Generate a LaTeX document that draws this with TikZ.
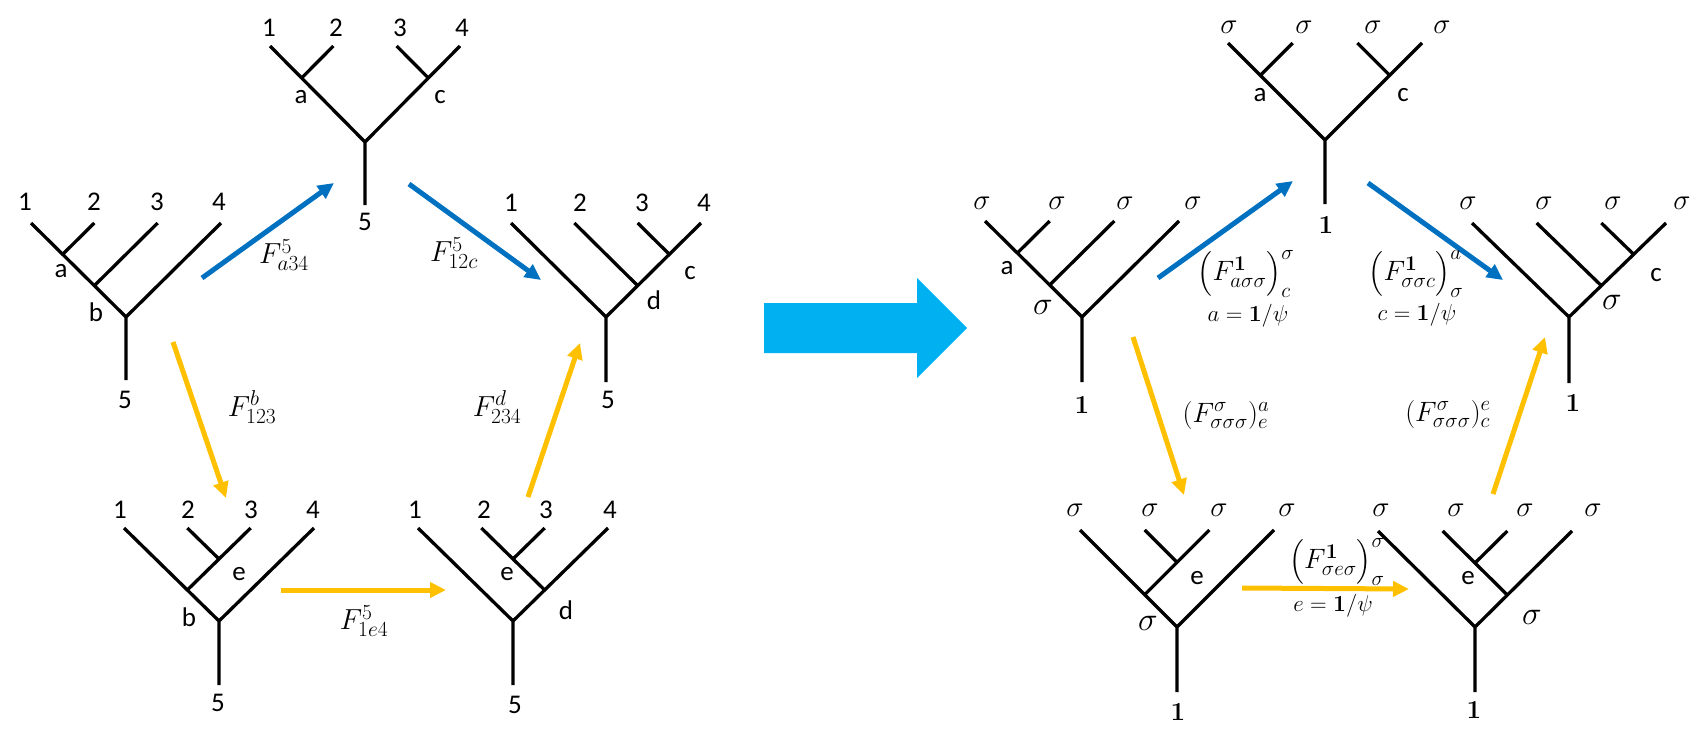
\RequirePackage{fix-cm}
\documentclass[tikz,border=0pt]{standalone}
\usepackage[no-math]{fontspec}
\usepackage{amsmath}
\newfontfamily\calib{Carlito}
\usetikzlibrary{calc,arrows.meta}
\definecolor{myblue}{HTML}{0070C0}
\definecolor{myyellow}{HTML}{FFC000}
\definecolor{bigblue}{HTML}{00B0F0}
\DeclareMathSizes{29}{29}{21.5}{16}
\DeclareMathSizes{28}{28}{21}{16}
\DeclareMathSizes{23}{23}{17}{13}
\tikzset{
 tree/.style={line width=3.3pt},
 lab/.style={font=\fontsize{27}{27}\selectfont\calib, inner sep=0pt},
 sig/.style={font=\fontsize{29}{29}\selectfont, inner sep=0pt},
 nsig/.style={font=\fontsize{33}{33}\selectfont, inner sep=0pt},
 one/.style={font=\fontsize{26}{26}\selectfont, inner sep=0pt},
 flab/.style={font=\fontsize{29}{29}\selectfont, inner sep=0pt},
 rlab/.style={font=\fontsize{28}{28}\selectfont, inner sep=0pt},
 slab/.style={font=\fontsize{23}{23}\selectfont, inner sep=0pt},
 barrow/.style={myblue, line width=5pt, -{Triangle[length=16pt,width=15pt]}},
 yarrow/.style={myyellow, line width=5pt, -{Triangle[length=16pt,width=15pt]}},
 pics/treeA/.style n args={3}{code={
   \draw[tree] (-#1,-#2) -- (0,0) -- (#1,-#2) (0,0) -- (0,#3)
     ({-2*#1/3},{-2*#2/3}) -- ({-#1/3},-#2)
     ({-#1/3},{-#2/3}) -- ({#1/3},-#2);}},
 pics/treeB/.style n args={3}{code={
   \draw[tree] (-#1,-#2) -- (0,0) -- (#1,-#2) (0,0) -- (0,#3)
     ({-2*#1/3},{-2*#2/3}) -- ({-#1/3},-#2)
     ({2*#1/3},{-2*#2/3}) -- ({#1/3},-#2);}},
 pics/treeC/.style n args={3}{code={
   \draw[tree] (-#1,-#2) -- (0,0) -- (#1,-#2) (0,0) -- (0,#3)
     ({2*#1/3},{-2*#2/3}) -- ({#1/3},-#2)
     ({#1/3},{-#2/3}) -- ({-#1/3},-#2);}},
 pics/treeD/.style n args={3}{code={
   \draw[tree] (-#1,-#2) -- (0,0) -- (#1,-#2) (0,0) -- (0,#3)
     ({-#1/3},{-#2/3}) -- ({#1/3},-#2)
     (0,{-2*#2/3}) -- ({-#1/3},-#2);}},
 pics/treeE/.style n args={3}{code={
   \draw[tree] (-#1,-#2) -- (0,0) -- (#1,-#2) (0,0) -- (0,#3)
     ({#1/3},{-#2/3}) -- ({-#1/3},-#2)
     (0,{-2*#2/3}) -- ({#1/3},-#2);}},
}
\begin{document}
\begin{tikzpicture}[x=1pt,y=-1pt]
\useasboundingbox (0,0) rectangle (1697,740);
% ---------- left pentagon ----------
\pic at (126,317) {treeA={95}{94}{63}};
\pic at (365,142) {treeB={95}{96}{63}};
\pic at (606,317) {treeC={95}{94}{65}};
\pic at (513,621) {treeE={95}{93}{64}};
\pic at (219,621) {treeD={95}{93}{64}};
% T0 labels
\node[lab] (t0l1) at (25,202) {1};
\node[lab] (t0l2) at (94,202) {2};
\node[lab] (t0l3) at (157,202) {3};
\node[lab] (t0l4) at (219,202) {4};
\node[lab] (t0a) at (61,271) {a};
\node[lab] (t0b) at (96,312) {b};
\node[lab] (t0r) at (125,400) {5};
% T1 labels
\node[lab] (t1l1) at (269,28) {1};
\node[lab] (t1l2) at (336,28) {2};
\node[lab] (t1l3) at (400,28) {3};
\node[lab] (t1l4) at (462,28) {4};
\node[lab] (t1a) at (301,97) {a};
\node[lab] (t1c) at (440,97) {c};
\node[lab] (t1r) at (365,222) {5};
% T2 labels
\node[lab] (t2l1) at (511,203) {1};
\node[lab] (t2l2) at (580,203) {2};
\node[lab] (t2l3) at (642,203) {3};
\node[lab] (t2l4) at (704,203) {4};
\node[lab] (t2c) at (690,273) {c};
\node[lab] (t2d) at (654,300) {d};
\node[lab] (t2r) at (608,400) {5};
% T3 labels
\node[lab] (t3l1) at (415,510) {1};
\node[lab] (t3l2) at (484,510) {2};
\node[lab] (t3l3) at (546,510) {3};
\node[lab] (t3l4) at (610,510) {4};
\node[lab] (t3e) at (507,574) {e};
\node[lab] (t3d) at (566,610) {d};
\node[lab] (t3r) at (515,705) {5};
% T4 labels
\node[lab] (t4l1) at (120,510) {1};
\node[lab] (t4l2) at (188,510) {2};
\node[lab] (t4l3) at (251,510) {3};
\node[lab] (t4l4) at (313,510) {4};
\node[lab] (t4e) at (239,574) {e};
\node[lab] (t4b) at (189,617) {b};
\node[lab] (t4r) at (218,703) {5};
% left arrows
\coordinate (b1s) at (202,278); \coordinate (b1e) at (334,183);
\coordinate (b2s) at (409,184); \coordinate (b2e) at (541,280);
\coordinate (y1s) at (173,342); \coordinate (y1e) at (226,498);
\coordinate (y2s) at (281,590); \coordinate (y2e) at (446,590);
\coordinate (y3s) at (528,497); \coordinate (y3e) at (580,343);
\draw[barrow] (b1s) -- (b1e);
\draw[barrow] (b2s) -- (b2e);
\draw[yarrow] (y1s) -- (y1e);
\draw[yarrow] (y2s) -- (y2e);
\draw[yarrow] (y3s) -- (y3e);
\node[flab] (f1) at (284,255) {$F^{5}_{a34}$};
\node[flab] (f2) at (454,253) {$F^{5}_{12c}$};
\node[flab] (f3) at (252,407) {$F^{b}_{123}$};
\node[flab] (f4) at (364,621) {$F^{5}_{1e4}$};
\node[flab] (f5) at (497,407) {$F^{d}_{234}$};
% ---------- big arrow ----------
\fill[bigblue] (764,303) -- (917,303) -- (917,278) -- (967,328) -- (917,378) -- (917,353) -- (764,353) -- cycle;
% ---------- right pentagon ----------
\pic at (1082,317) {treeA={97}{96}{65}};
\pic at (1325,140) {treeB={97}{97}{64}};
\pic at (1569,317) {treeC={97}{94}{66}};
\pic at (1475,627) {treeE={97}{96}{65}};
\pic at (1177,627) {treeD={97}{97}{65}};
% R0
\node[sig] (r0l1) at (982,203) {$\sigma$};
\node[sig] (r0l2) at (1057,203) {$\sigma$};
\node[sig] (r0l3) at (1125,203) {$\sigma$};
\node[sig] (r0l4) at (1193,203) {$\sigma$};
\node[lab] (r0a) at (1007,268) {a};
\node[nsig] (r0s) at (1043,307) {$\sigma$};
\node[one] (r0r) at (1082,405) {$\mathbf{1}$};
% R1
\node[sig] (r1l1) at (1229,27) {$\sigma$};
\node[sig] (r1l2) at (1304,27) {$\sigma$};
\node[sig] (r1l3) at (1373,27) {$\sigma$};
\node[sig] (r1l4) at (1442,27) {$\sigma$};
\node[lab] (r1a) at (1260,95) {a};
\node[lab] (r1c) at (1403,95) {c};
\node[one] (r1r) at (1326,225) {$\mathbf{1}$};
% R2
\node[sig] (r2l1) at (1468,203) {$\sigma$};
\node[sig] (r2l2) at (1544,203) {$\sigma$};
\node[sig] (r2l3) at (1613,203) {$\sigma$};
\node[sig] (r2l4) at (1682,203) {$\sigma$};
\node[lab] (r2c) at (1656,275) {c};
\node[nsig] (r2s) at (1612,302) {$\sigma$};
\node[one] (r2r) at (1573,403) {$\mathbf{1}$};
% R3
\node[sig] (r3l1) at (1381,510) {$\sigma$};
\node[sig] (r3l2) at (1456,510) {$\sigma$};
\node[sig] (r3l3) at (1525,510) {$\sigma$};
\node[sig] (r3l4) at (1593,510) {$\sigma$};
\node[lab] (r3e) at (1468,578) {e};
\node[nsig] (r3s) at (1532,617) {$\sigma$};
\node[one] (r3r) at (1474,710) {$\mathbf{1}$};
% R4
\node[sig] (r4l1) at (1075,510) {$\sigma$};
\node[sig] (r4l2) at (1150,510) {$\sigma$};
\node[sig] (r4l3) at (1219,510) {$\sigma$};
\node[sig] (r4l4) at (1287,510) {$\sigma$};
\node[lab] (r4e) at (1197,578) {e};
\node[nsig] (r4s) at (1148,623) {$\sigma$};
\node[one] (r4r) at (1178,712) {$\mathbf{1}$};
% right arrows
\coordinate (b3s) at (1158,278); \coordinate (b3e) at (1293,181);
\coordinate (b4s) at (1368,183); \coordinate (b4e) at (1503,280);
\coordinate (y4s) at (1133,337); \coordinate (y4e) at (1184,495);
\coordinate (y5s) at (1242,588); \coordinate (y5e) at (1409,589);
\coordinate (y6s) at (1493,494); \coordinate (y6e) at (1545,337);
\draw[barrow] (b3s) -- (b3e);
\draw[barrow] (b4s) -- (b4e);
\draw[yarrow] (y4s) -- (y4e);
\draw[yarrow] (y5s) -- (y5e);
\draw[yarrow] (y6s) -- (y6e);
\node[rlab] (g1) at (1246,274) {$\bigl(F^{\mathbf{1}}_{a\sigma\sigma}\bigr)^{\sigma}_{c}$};
\node[slab] (g1s) at (1248,316) {$a=\mathbf{1}/\psi$};
\node[rlab] (g2) at (1416,274) {$\bigl(F^{\mathbf{1}}_{\sigma\sigma c}\bigr)^{a}_{\sigma}$};
\node[slab] (g2s) at (1417,315) {$c=\mathbf{1}/\psi$};
\node[rlab] (g3) at (1226,415) {$(F^{\sigma}_{\sigma\sigma\sigma})^{a}_{e}$};
\node[rlab] (g4) at (1448,414) {$(F^{\sigma}_{\sigma\sigma\sigma})^{e}_{c}$};
\node[rlab] (g5) at (1337,562) {$\bigl(F^{\mathbf{1}}_{\sigma e\sigma}\bigr)^{\sigma}_{\sigma}$};
\node[slab] (g5s) at (1333,606) {$e=\mathbf{1}/\psi$};
\end{tikzpicture}
\end{document}
